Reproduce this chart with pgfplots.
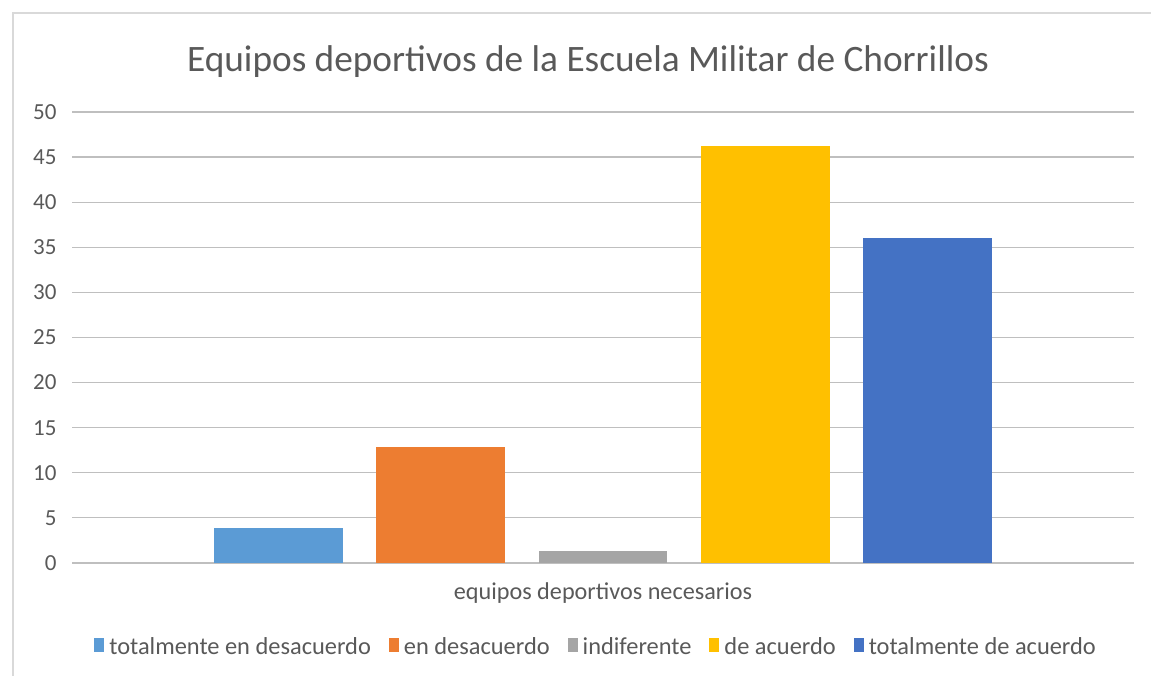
\documentclass[border=0pt]{standalone}
\usepackage{fontspec}
\setmainfont{Carlito}
\usepackage{pgfplots}
\pgfplotsset{compat=1.18}
\definecolor{c1}{HTML}{5B9BD5}
\definecolor{c2}{HTML}{ED7D31}
\definecolor{c3}{HTML}{A5A5A5}
\definecolor{c4}{HTML}{FFC000}
\definecolor{c5}{HTML}{4472C4}
\definecolor{txt}{HTML}{595959}
\definecolor{grid}{HTML}{D9D9D9}
\begin{document}
\begin{tikzpicture}[x=1pt,y=1pt]
\useasboundingbox (0,0) rectangle (1151,676);
\draw[grid, line width=1.2pt] (13,-10) rectangle (1165,663);
\node[txt, font=\fontsize{37.3}{44}\selectfont, anchor=base] at (588,604) {Equipos deportivos de la Escuela Militar de Chorrillos};
\begin{axis}[
  scale only axis, width=1062pt, height=451pt,
  at={(72pt,113pt)}, anchor=south west,
  xmin=-0.27, xmax=6.27, ymin=0, ymax=50,
  ytick={0,5,...,50}, xtick={3}, xticklabels={equipos deportivos necesarios},
  axis line style={draw=none},
  major tick length=0pt, tick style={draw=none},
  ymajorgrids, xmajorgrids=false, grid style={grid, line width=1.2pt},
  tick label style={txt, font=\fontsize{23}{27}\selectfont},
  xticklabel style={yshift=-16pt, font=\fontsize{24.2}{28}\selectfont},
  /pgf/number format/assume math mode=true,
  yticklabel style={xshift=-12pt},
  legend columns=5,
  legend style={draw=none, fill=none, at={(0.4935,-0.185)}, anchor=center,
    font=\fontsize{24.4}{28}\selectfont, text=txt,
    /tikz/every odd column/.append style={column sep=3pt},
    /tikz/every even column/.append style={column sep=16pt}},
  legend image code/.code={\fill[#1] (0pt,-6pt) rectangle (10pt,8pt);},
  clip=false,
]
\addplot[ybar, bar width=0.794, bar shift=0pt, fill=c1, draw=none] coordinates {(1,3.9)};
\addlegendentry{totalmente en desacuerdo}
\addplot[ybar, bar width=0.794, bar shift=0pt, fill=c2, draw=none] coordinates {(2,12.9)};
\addlegendentry{en desacuerdo}
\addplot[ybar, bar width=0.794, bar shift=0pt, fill=c3, draw=none] coordinates {(3,1.3)};
\addlegendentry{indiferente}
\addplot[ybar, bar width=0.794, bar shift=0pt, fill=c4, draw=none] coordinates {(4,46.2)};
\addlegendentry{de acuerdo}
\addplot[ybar, bar width=0.794, bar shift=0pt, fill=c5, draw=none] coordinates {(5,36.0)};
\addlegendentry{totalmente de acuerdo}
\end{axis}
\end{tikzpicture}
\end{document}
